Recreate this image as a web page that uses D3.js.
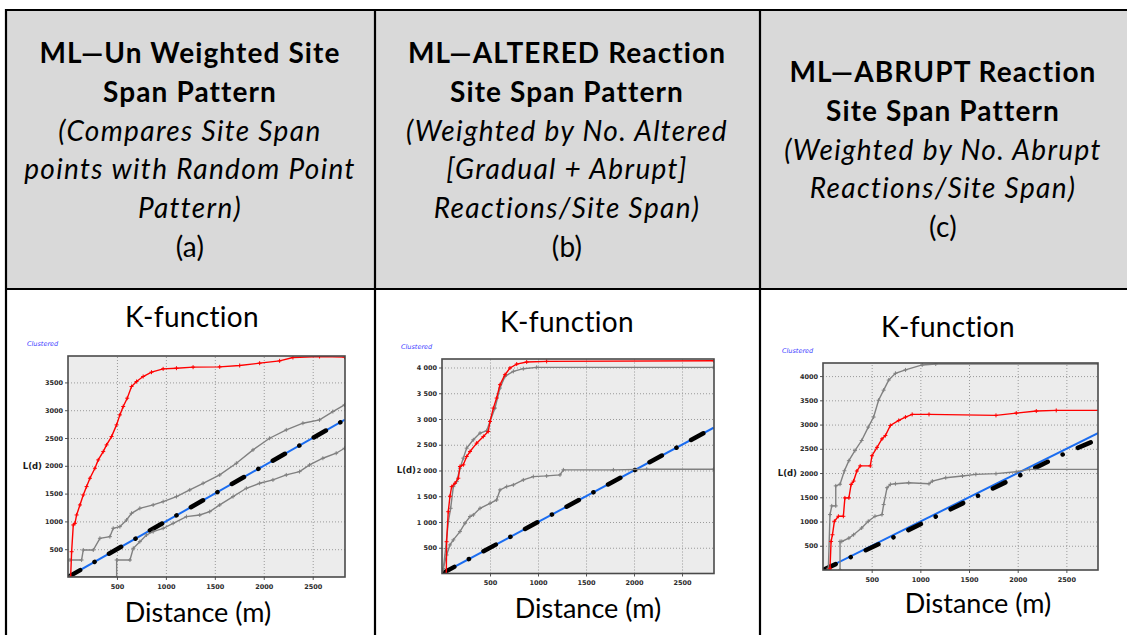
<!DOCTYPE html>
<html>
<head>
<meta charset="utf-8">
<script src="https://cdn.jsdelivr.net/npm/d3@7"></script>
<style>
body { margin: 0; background: #fff; }
svg { display: block; }
.cell { font-family: Lato, "Open Sans", sans-serif; fill: #000; }
.tick text { font-family: "DejaVu Sans", sans-serif; font-size: 6.5px; font-weight: bold; fill: #2a2a2a; }
.grid line { stroke: #9a9a9a; stroke-dasharray: 1,2; }
.grid .domain { display: none; }
</style>
</head>
<body>
<div id="chart"></div>
<script>
var svgWidth = 1127, svgHeight = 635;

// header cells
var headA = ["ML—Un Weighted Site", "Span Pattern", "(Compares Site Span", "points with Random Point", "Pattern)", "(a)"];
var headB = ["ML—ALTERED Reaction", "Site Span Pattern", "(Weighted by No. Altered", "[Gradual + Abrupt]", "Reactions/Site Span)", "(b)"];
var headC = ["ML—ABRUPT Reaction", "Site Span Pattern", "(Weighted by No. Abrupt", "Reactions/Site Span)", "(c)"];
var headStyleA = ["b", "b", "i", "i", "i", "n"];
var headStyleC = ["b", "b", "i", "i", "n"];

// axis ticks
var xTicks = [500, 1000, 1500, 2000, 2500];
var yTicksA = [500, 1000, 1500, 2000, 2500, 3000, 3500];
var yTicksB = [500, 1000, 1500, 2000, 2500, 3000, 3500, 4000];
var yTicksC = [500, 1000, 1500, 2000, 2500, 3000, 3500, 4000];

// (a) unweighted
var aObserved = [[27,0],[37,455],[54,936],[71,966],[88,1116],[122,1296],[156,1476],[190,1626],[224,1776],[275,1956],[309,2106],[360,2256],[394,2376],[445,2526],[496,2736],[530,2916],[564,3066],[605,3216],[649,3426],[700,3516],[768,3606],[853,3684],[972,3744],[1108,3756],[1278,3774],[1550,3780],[1754,3804],[1958,3846],[2162,3888],[2298,3948],[2570,3966],[2825,3954]];
var aUpper = [[20,306],[139,306],[156,486],[258,486],[326,696],[428,726],[462,876],[530,906],[598,1026],[649,1146],[734,1236],[870,1296],[972,1356],[1108,1446],[1244,1566],[1380,1686],[1550,1836],[1720,2046],[1890,2286],[2060,2496],[2230,2646],[2400,2766],[2570,2826],[2706,2976],[2825,3096]];
var aLower = [[20,0],[497,0],[497,306],[633,306],[667,516],[734,636],[802,756],[870,816],[972,876],[1074,966],[1210,1086],[1346,1116],[1448,1176],[1550,1296],[1686,1446],[1822,1596],[1958,1686],[2094,1746],[2230,1836],[2366,1896],[2468,2016],[2604,2136],[2740,2226],[2825,2316]];
var aExpected = [[0,0],[2830,2830]];
var aRandom = [[0,0],[2830,2830]];

// (b) altered
var bObserved = [[45,0],[48,617],[65,1200],[83,1500],[101,1687],[135,1752],[170,1850],[187,2078],[222,2110],[257,2272],[292,2369],[361,2531],[431,2661],[482,2758],[500,2953],[535,3212],[569,3407],[604,3666],[656,3860],[708,3990],[778,4067],[882,4106],[1090,4119],[2830,4132]];
var bUpper = [[0,0],[14,99],[38,486],[66,1006],[90,1266],[118,1687],[153,1785],[187,2045],[222,2240],[257,2434],[326,2596],[396,2726],[465,2771],[500,2953],[552,3212],[604,3601],[656,3828],[743,3925],[847,3977],[986,4003],[2830,4003]];
var bLower = [[0,0],[48,360],[83,555],[118,652],[187,814],[240,977],[292,1107],[326,1137],[396,1266],[500,1363],[569,1428],[604,1623],[674,1687],[743,1720],[847,1817],[951,1882],[1090,1895],[1229,1915],[1264,2012],[1785,2012],[2132,2025],[2830,2025]];
var bExpected = [[0,0],[2830,2830]];
var bRandom = [[0,0],[2830,2830]];

// (c) abrupt
var cObserved = [[72,0],[72,35],[83,589],[97,727],[117,1005],[158,1108],[209,1108],[225,1487],[266,1487],[289,1766],[314,1834],[348,2042],[382,2147],[486,2147],[503,2357],[555,2530],[606,2704],[641,2773],[692,2981],[778,3085],[847,3154],[916,3210],[1089,3210],[1777,3189],[1985,3237],[2191,3279],[2396,3292],[2830,3292]];
var cUpper = [[55,0],[55,35],[72,1143],[90,1322],[131,1322],[131,1735],[175,1770],[220,2047],[266,2255],[328,2463],[397,2671],[465,2948],[520,3155],[571,3502],[623,3710],[675,3918],[744,4057],[847,4127],[1019,4230],[1158,4250],[2830,4250]];
var cLower = [[175,0],[175,589],[193,589],[266,658],[314,727],[397,866],[465,1005],[534,1108],[606,1143],[623,1350],[658,1697],[692,1766],[744,1780],[881,1800],[1089,1780],[1123,1834],[1261,1903],[1433,1939],[1570,1973],[1777,1987],[1985,2027],[2122,2075],[2830,2075]];
var cExpected = [[0,0],[2830,2830]];
var cRandom = [[0,0],[768,715],[1632,1570],[2500,2420],[2830,2700]];

var svg = d3.select("#chart").append("svg")
    .attr("width", svgWidth)
    .attr("height", svgHeight);

var colEdges = [6, 375, 760, 1127];
var headTop = 10, headBottom = 289;

svg.append("rect")
    .attr("x", colEdges[0]).attr("y", headTop)
    .attr("width", colEdges[3] - colEdges[0]).attr("height", headBottom - headTop)
    .attr("fill", "#d9d9d9");

function headCell(lines, styles, cx, firstBase) {
    svg.append("g").selectAll("text")
        .data(lines).enter().append("text")
        .attr("class", "cell")
        .attr("x", cx)
        .attr("y", (d, i) => firstBase + i * 38.8)
        .attr("text-anchor", "middle")
        .style("font-size", "28px")
        .style("font-weight", (d, i) => styles[i] == "b" ? "bold" : "normal")
        .style("font-style", (d, i) => styles[i] == "i" ? "italic" : "normal")
        .style("letter-spacing", (d, i) => styles[i] == "b" ? "1.1px" : styles[i] == "i" ? "1.35px" : "0.3px")
        .text(d => d);
}
headCell(headA, headStyleA, 190, 63);
headCell(headB, headStyleA, 567, 63);
headCell(headC, headStyleC, 943, 82);

// table borders
var border = svg.append("g").attr("stroke", "#000").attr("stroke-width", 2.2);
border.append("line").attr("x1", colEdges[0]).attr("x2", svgWidth).attr("y1", headTop).attr("y2", headTop);
border.append("line").attr("x1", colEdges[0]).attr("x2", svgWidth).attr("y1", headBottom).attr("y2", headBottom);
border.selectAll(".vline").data(colEdges.slice(0, 3)).enter().append("line")
    .attr("x1", d => d).attr("x2", d => d).attr("y1", headTop - 1).attr("y2", svgHeight);

function panel(cfg) {
    var x = d3.scaleLinear().domain([0, cfg.xMax]).range([cfg.left, cfg.right]);
    var y = d3.scaleLinear().domain([0, cfg.yMax]).range([cfg.bottom, cfg.top]);
    var pw = cfg.right - cfg.left, ph = cfg.bottom - cfg.top;
    var g = svg.append("g");

    g.append("text").attr("class", "cell")
        .attr("x", cfg.kx).attr("y", cfg.ky)
        .attr("text-anchor", "middle").style("font-size", "28px")
        .style("letter-spacing", "0.3px")
        .text("K-function");
    g.append("text").attr("class", "cell")
        .attr("x", cfg.dx).attr("y", cfg.dy)
        .attr("text-anchor", "middle").style("font-size", "27px")
        .text("Distance (m)");

    g.append("text")
        .attr("x", cfg.left - 41).attr("y", cfg.top - 10)
        .style("font-family", "DejaVu Sans").style("font-size", "6.5px")
        .style("font-style", "italic").attr("fill", "#3a3aff")
        .text("Clustered");
    g.append("text")
        .attr("x", cfg.left - 26).attr("y", y(2000) + 3)
        .attr("text-anchor", "end")
        .style("font-family", "DejaVu Sans").style("font-size", "8.5px")
        .style("font-weight", "bold").attr("fill", "#1a1a1a")
        .text("L(d)");

    g.append("clipPath").attr("id", cfg.id).append("rect")
        .attr("x", cfg.left).attr("y", cfg.top).attr("width", pw).attr("height", ph);

    g.append("rect")
        .attr("x", cfg.left).attr("y", cfg.top).attr("width", pw).attr("height", ph)
        .attr("fill", "#ececec");

    g.append("g").attr("class", "grid")
        .attr("transform", "translate(0," + cfg.bottom + ")")
        .call(d3.axisBottom(x).tickValues(xTicks).tickSize(-ph).tickFormat(""));
    g.append("g").attr("class", "grid")
        .attr("transform", "translate(" + cfg.left + ",0)")
        .call(d3.axisLeft(y).tickValues(cfg.yTicks).tickSize(-pw).tickFormat(""));

    var xa = g.append("g").attr("class", "axis")
        .attr("transform", "translate(0," + cfg.bottom + ")")
        .call(d3.axisBottom(x).tickValues(xTicks).tickSize(3).tickPadding(4).tickFormat(d3.format("d")));
    xa.select(".domain").remove();
    xa.selectAll(".tick line").attr("stroke", "#555");
    var ya = g.append("g").attr("class", "axis")
        .attr("transform", "translate(" + cfg.left + ",0)")
        .call(d3.axisLeft(y).tickValues(cfg.yTicks).tickSize(3).tickPadding(2).tickFormat(cfg.fmt));
    ya.select(".domain").remove();
    ya.selectAll(".tick line").attr("stroke", "#555");

    var plot = g.append("g").attr("clip-path", "url(#" + cfg.id + ")");
    var line = d3.line().x(d => x(d[0])).y(d => y(d[1]));

    // expected (blue) and random pattern (black dashes)
    plot.append("path").datum(cfg.expected)
        .attr("d", line).attr("fill", "none")
        .attr("stroke", "#1a6cf0").attr("stroke-width", 2);
    plot.append("path").datum(cfg.random)
        .attr("d", line).attr("fill", "none")
        .attr("stroke", "#000").attr("stroke-width", 4.5)
        .attr("stroke-linecap", "round")
        .attr("stroke-dasharray", "14,16.5,0.1,16.5");

    var series = [
        {data: cfg.lower, color: "#808080"},
        {data: cfg.upper, color: "#808080"},
        {data: cfg.observed, color: "#ff0000"}
    ];
    series.forEach(function (s) {
        plot.append("path").datum(s.data)
            .attr("d", line).attr("fill", "none")
            .attr("stroke", s.color).attr("stroke-width", 1.4);
        plot.selectAll(null).data(s.data).enter().append("path")
            .attr("d", "M-2,0H2M0,-2V2")
            .attr("transform", d => "translate(" + x(d[0]) + "," + y(d[1]) + ")")
            .attr("stroke", s.color).attr("stroke-width", 1);
    });

    g.append("rect")
        .attr("x", cfg.left).attr("y", cfg.top).attr("width", pw).attr("height", ph)
        .attr("fill", "none").attr("stroke", "#4a4a4a").attr("stroke-width", 1.6);
}

var spaced = d => d >= 1000 ? d3.format(",")(d).replace(",", " ") : String(d);

panel({id: "clipA", left: 68, right: 345, top: 356, bottom: 577, xMax: 2830, yMax: 3975,
    yTicks: yTicksA, fmt: d3.format("d"), kx: 192, ky: 327, dx: 198, dy: 622,
    observed: aObserved, upper: aUpper, lower: aLower, expected: aExpected, random: aRandom});
panel({id: "clipB", left: 442, right: 714, top: 359, bottom: 573.5, xMax: 2833, yMax: 4165,
    yTicks: yTicksB, fmt: spaced, kx: 567, ky: 332, dx: 588, dy: 618,
    observed: bObserved, upper: bUpper, lower: bLower, expected: bExpected, random: bRandom});
panel({id: "clipC", left: 823, right: 1098, top: 363, bottom: 570, xMax: 2825, yMax: 4270,
    yTicks: yTicksC, fmt: d3.format("d"), kx: 948, ky: 337, dx: 978, dy: 613,
    observed: cObserved, upper: cUpper, lower: cLower, expected: cExpected, random: cRandom});
</script>
</body>
</html>
